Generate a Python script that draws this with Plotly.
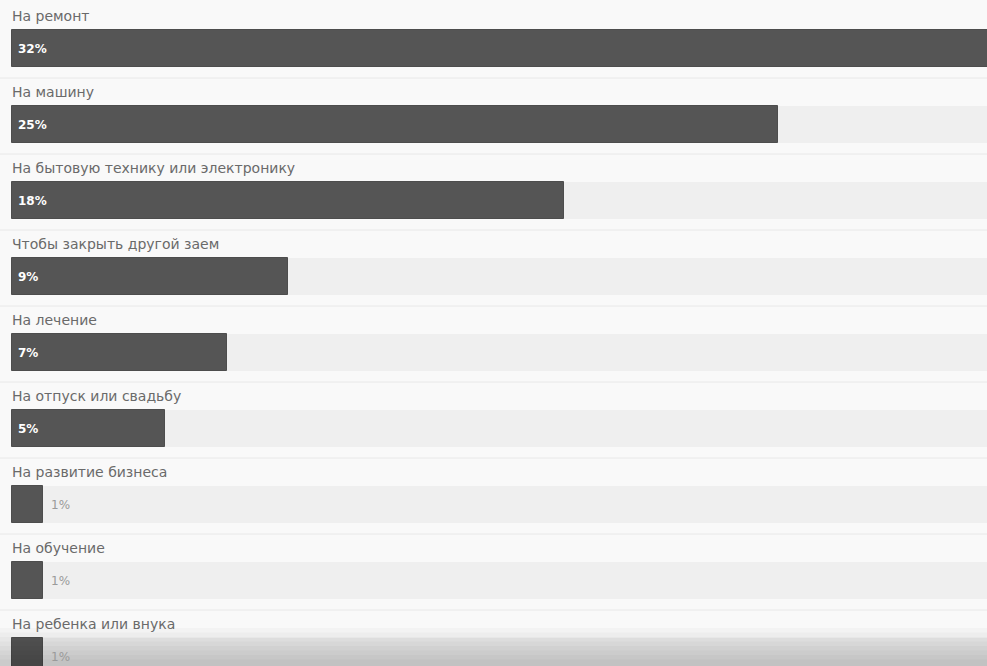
import plotly.graph_objects as go

categories = [
    "На ремонт",
    "На машину",
    "На бытовую технику или электронику",
    "Чтобы закрыть другой заем",
    "На лечение",
    "На отпуск или свадьбу",
    "На развитие бизнеса",
    "На обучение",
    "На ребенка или внука",
]
values = [32, 25, 18, 9, 7, 5, 1, 1, 1]
value_labels = ["32%", "25%", "18%", "9%", "7%", "5%", "1%", "1%", "1%"]

px_per_unit = 30.65
x_left = -12 / px_per_unit
x_right = (987 - 12) / px_per_unit
pitch = 76.0
first_center = 48.5
y_top = -first_center / pitch
y_bottom = (666 - first_center) / pitch

idx = list(range(len(categories)))
bar_w = 37 / pitch
FONT = "DejaVu Sans, Verdana, sans-serif"

fig = go.Figure()

# track
fig.add_trace(go.Bar(
    y=idx, x=[100] * len(idx), orientation="h", width=bar_w,
    marker=dict(color="#efefef", line=dict(width=0)),
    hoverinfo="skip", showlegend=False,
))

fig.add_trace(go.Bar(
    y=idx, x=values, orientation="h", width=bar_w,
    marker=dict(color="#555555", line=dict(color="#4d4d4d", width=1)),
    showlegend=False,
    hovertemplate="%{x}%<extra></extra>",
))

for i, cat in enumerate(categories):
    fig.add_annotation(
        x=0, y=i - 32.5 / pitch, xref="x", yref="y", text=cat,
        showarrow=False, xanchor="left", yanchor="middle", xshift=-2,
        font=dict(family=FONT, size=14, color="#6a6a6a"),
    )
    fig.add_shape(
        type="line", xref="paper", yref="y", x0=0, x1=1,
        y0=i + 29.5 / pitch, y1=i + 29.5 / pitch,
        line=dict(color="#e8e8e8", width=1), layer="below",
    )
    if values[i] >= 3:
        fig.add_annotation(
            x=0, y=i, xref="x", yref="y", text="<b>" + value_labels[i] + "</b>",
            showarrow=False, xanchor="left", yanchor="middle", xshift=4,
            font=dict(family=FONT, size=12, color="#ffffff"),
        )
    else:
        fig.add_annotation(
            x=values[i], y=i, xref="x", yref="y", text=value_labels[i],
            showarrow=False, xanchor="left", yanchor="middle", xshift=6,
            font=dict(family=FONT, size=12, color="#9a9a9a"),
        )

# bottom vignette
steps = 8
for s in range(steps):
    fig.add_shape(
        type="rect", xref="paper", yref="paper", x0=0, x1=1,
        y0=0, y1=(38 - s * 4.5) / 666,
        fillcolor="#000000", opacity=0.025, line=dict(width=0), layer="above",
    )

fig.update_layout(
    width=987, height=666,
    margin=dict(l=0, r=0, t=0, b=0),
    paper_bgcolor="#f9f9f9", plot_bgcolor="#f9f9f9",
    barmode="overlay",
    bargap=0,
    xaxis=dict(range=[x_left, x_right], visible=False, fixedrange=True),
    yaxis=dict(range=[y_bottom, y_top], visible=False, fixedrange=True),
)

fig.write_html("out.html")
